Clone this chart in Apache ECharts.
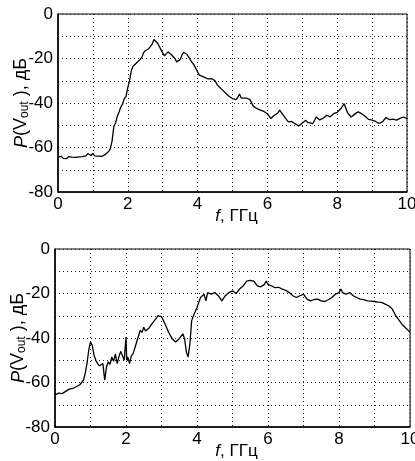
<!DOCTYPE html>
<html><head><meta charset="utf-8">
<script src="https://cdn.jsdelivr.net/npm/echarts@6/dist/echarts.min.js"></script>
<style>html,body{margin:0;padding:0;background:#fff}#c{width:415px;height:461px}</style>
</head><body><div id="c"></div>
<script>
// Top chart
var f1 = [0,0.05,0.1,0.15,0.2,0.25,0.3,0.35,0.4,0.45,0.5,0.55,0.6,0.65,0.7,0.75,0.8,0.85,0.9,0.95,1.0,1.05,1.1,1.15,1.2,1.25,1.3,1.35,1.4,1.45,1.5,1.55,1.6,1.65,1.7,1.75,1.8,1.85,1.9,1.95,2.0,2.05,2.1,2.15,2.2,2.25,2.3,2.35,2.4,2.45,2.5,2.55,2.6,2.65,2.7,2.75,2.8,2.85,2.9,2.95,3.0,3.05,3.1,3.15,3.2,3.25,3.3,3.35,3.4,3.45,3.5,3.55,3.6,3.65,3.7,3.75,3.8,3.9,4.0,4.05,4.1,4.2,4.3,4.4,4.5,4.55,4.6,4.7,4.8,4.9,5.0,5.1,5.15,5.2,5.25,5.3,5.4,5.5,5.6,5.7,5.8,5.9,6.0,6.1,6.2,6.3,6.35,6.4,6.5,6.6,6.7,6.8,6.9,7.0,7.1,7.15,7.2,7.3,7.4,7.5,7.6,7.7,7.8,7.9,8.0,8.1,8.2,8.25,8.3,8.4,8.5,8.6,8.7,8.8,8.9,9.0,9.1,9.2,9.3,9.4,9.5,9.6,9.7,9.8,9.9,10];
var p1 = [-64.3,-64.8,-64.0,-64.9,-64.2,-65.0,-64.1,-64.6,-64.3,-64.8,-64.4,-64.6,-64.2,-64.7,-64.1,-64.5,-63.8,-62.7,-62.5,-63.6,-62.6,-63.8,-63.0,-63.9,-63.4,-64.0,-63.6,-63.2,-62.8,-61.8,-60.5,-57,-50.5,-49,-46,-44,-41.8,-40.5,-38,-37,-33,-30,-25.5,-23.5,-23,-22,-22.3,-20.5,-19.5,-17.5,-16.5,-16,-15.6,-14.5,-13.5,-11.5,-10.8,-13,-14.5,-16,-17.5,-18.8,-18.2,-17,-17.2,-18.3,-18.5,-20,-21.5,-20.8,-20.5,-18.5,-17.2,-17.5,-18.2,-19.5,-20.8,-23,-26,-27.5,-28.3,-28.5,-29.2,-29,-30,-31.5,-32.5,-34,-35.5,-37,-38,-38.5,-37.5,-36,-37.8,-38.5,-37.8,-38.5,-41.5,-42.5,-43.2,-43.8,-44.8,-47,-45.5,-44.5,-43.2,-43.5,-46.5,-48.5,-48.3,-49.4,-50.3,-49,-47.8,-48.7,-48.2,-49.3,-46.3,-47.6,-46.8,-45.5,-46.2,-44.8,-44.2,-42.6,-40.3,-40.8,-44.5,-46.3,-45,-44,-44.8,-46,-47.4,-47.7,-48.3,-49.2,-48.4,-46.5,-47.5,-47.2,-47.7,-46.9,-46.3,-47];
// Bottom chart
var f2 = [0,0.05,0.1,0.15,0.2,0.25,0.3,0.35,0.4,0.45,0.5,0.55,0.6,0.65,0.7,0.75,0.8,0.85,0.9,0.95,1.0,1.05,1.1,1.15,1.2,1.25,1.3,1.35,1.4,1.45,1.5,1.55,1.6,1.65,1.7,1.75,1.8,1.85,1.9,1.95,2.0,2.02,2.05,2.1,2.15,2.2,2.25,2.3,2.35,2.4,2.45,2.5,2.55,2.6,2.65,2.7,2.75,2.8,2.85,2.9,2.95,3.0,3.05,3.1,3.2,3.3,3.4,3.5,3.6,3.65,3.7,3.75,3.8,3.85,3.9,4.0,4.05,4.1,4.2,4.25,4.3,4.4,4.5,4.6,4.7,4.8,4.9,5.0,5.1,5.2,5.3,5.4,5.5,5.6,5.7,5.8,5.9,5.95,6.0,6.1,6.2,6.3,6.4,6.5,6.6,6.7,6.8,6.9,7.0,7.1,7.2,7.3,7.4,7.5,7.6,7.7,7.8,7.9,8.0,8.05,8.1,8.2,8.3,8.4,8.5,8.6,8.7,8.8,8.9,9.0,9.1,9.2,9.3,9.4,9.5,9.6,9.7,9.8,9.9,10];
var p2 = [-65.6,-66,-64.8,-65.4,-65,-64.2,-64,-64.6,-63,-63.4,-62.6,-63,-61.9,-62.3,-61,-60.4,-59,-56,-51.5,-45.5,-41.8,-43.3,-47.8,-50,-51.5,-52.5,-53,-51.5,-59,-53,-50.7,-51.8,-48.5,-50.5,-47.3,-51.5,-48.5,-46,-45.5,-50,-39.6,-50,-48.5,-51.5,-48,-47,-44.5,-41.8,-41,-36.6,-37.5,-35.2,-36.8,-36.6,-35.5,-34.3,-33.2,-32.2,-31.2,-30,-29.2,-30.4,-32,-33.7,-37.4,-40.3,-41.8,-40.3,-38.1,-40.3,-46.3,-48.5,-42.6,-32.2,-30,-26.3,-24,-21.8,-20.3,-23.3,-19.6,-20.3,-19.6,-21,-23.3,-21,-19.6,-18.8,-20,-18,-16.6,-14.4,-14.1,-14.4,-16.6,-17,-15.9,-14.4,-15.9,-16.6,-17.4,-17.2,-18,-18.6,-19.6,-21,-21.8,-21,-20.3,-22.5,-23.3,-22.7,-22.5,-23.3,-23.6,-22.8,-21.8,-20.3,-19.6,-18,-19.6,-20.3,-19.6,-21,-21.8,-22.5,-22.8,-23.3,-23.4,-23.6,-23.9,-24,-24.8,-25.5,-27,-30,-32.2,-34.3,-35.8,-37.4];
var xTicks = ['0','2','4','6','8','10'];
var yTicks = ['0','-20','-40','-60','-80'];

function pairs(a,b){return a.map(function(v,i){return [v,b[i]];});}
var font = 'Liberation Sans, Arial, sans-serif';
var gridDash = {color:'#222', width:1, type:[1,3]};
function xAx(gi){return {type:'value',gridIndex:gi,min:0,max:10,interval:1,
  axisLine:{show:true,onZero:false,lineStyle:{color:'#000',width:1.5}},axisTick:{show:false},
  splitLine:{show:true,lineStyle:gridDash},
  axisLabel:{margin:4,fontFamily:font,fontSize:17,color:'#000',
    formatter:function(v){var s=String(v);return xTicks.indexOf(s)>=0?s:'';}},
  name:'{i|f}, ГГц',nameLocation:'middle',nameGap:16,nameMoveOverlap:false,
  nameTextStyle:{fontFamily:font,fontSize:17,color:'#000',padding:[0,0,0,8],rich:{i:{fontStyle:'italic',fontFamily:font,fontSize:17,color:'#000'}}}};}
function yAx(gi){return {type:'value',gridIndex:gi,min:-80,max:0,interval:10,
  axisLine:{show:true,onZero:false,lineStyle:{color:'#000',width:1.5}},axisTick:{show:false},
  splitLine:{show:true,lineStyle:gridDash},
  axisLabel:{margin:5,fontFamily:font,fontSize:17,color:'#000',
    formatter:function(v){var s=String(v);return yTicks.indexOf(s)>=0?s:'';}},
  name:'{i|P}(V{s|out} ), дБ',nameLocation:'middle',nameRotate:90,nameGap:27,nameMoveOverlap:false,
  nameTextStyle:{fontFamily:font,fontSize:18,color:'#000',
    rich:{i:{fontStyle:'italic',fontFamily:font,fontSize:18,color:'#000'},
          s:{fontFamily:font,fontSize:12,color:'#000',verticalAlign:'bottom',padding:[7,0,0,0]}}}};}

var chart = echarts.init(document.getElementById('c'),null,{renderer:'canvas'});
chart.setOption({
  animation:false,
  backgroundColor:'#fff',
  grid:[{left:58,right:8,top:14,height:178,show:true,borderColor:'#000',borderWidth:1,containLabel:false,outerBoundsMode:'none'},
        {left:55,right:5,top:249,height:178,show:true,borderColor:'#000',borderWidth:1,containLabel:false,outerBoundsMode:'none'}],
  xAxis:[xAx(0),xAx(1)],
  yAxis:[yAx(0),yAx(1)],
  series:[
    {type:'line',xAxisIndex:0,yAxisIndex:0,data:pairs(f1,p1),symbol:'none',lineStyle:{color:'#000',width:1.3}},
    {type:'line',xAxisIndex:1,yAxisIndex:1,data:pairs(f2,p2),symbol:'none',lineStyle:{color:'#000',width:1.3}}
  ]
});
</script></body></html>
